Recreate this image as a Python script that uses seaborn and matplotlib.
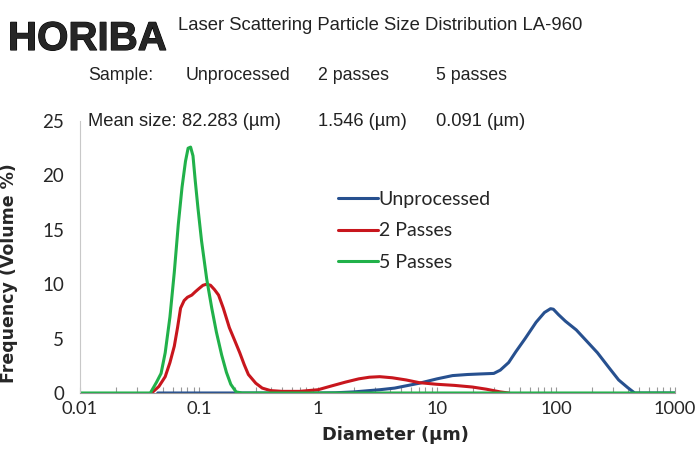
import numpy as np
import pandas as pd
import matplotlib
matplotlib.use("Agg")
import matplotlib.pyplot as plt
import matplotlib.ticker as mticker
import matplotlib.patheffects as pe
import seaborn as sns

# data
x_unproc = [0.045, 0.5, 1.0, 1.4, 2.0, 3.3, 4.4, 7.1, 10.0, 13.5, 18.0, 23.0, 30.0, 34.0, 40.0, 46.0, 55.0,
            68.0, 80.0, 90.0, 95.0, 105.0, 120.0, 148.0, 180.0, 223.0, 280.0, 336.0, 400.0, 458.0, 1000.0]
y_unproc = [0.0, 0.0, 0.0, 0.02, 0.1, 0.3, 0.45, 0.9, 1.3, 1.6, 1.7, 1.75, 1.8, 2.1, 2.8, 3.8, 5.0,
            6.5, 7.4, 7.75, 7.7, 7.2, 6.6, 5.8, 4.8, 3.7, 2.3, 1.2, 0.5, 0.0, 0.0]

x_2pass = [0.040, 0.046, 0.052, 0.057, 0.062, 0.066, 0.070, 0.075, 0.080, 0.087, 0.093, 0.100, 0.108, 0.116,
           0.125, 0.135, 0.146, 0.160, 0.180, 0.200, 0.220, 0.240, 0.260, 0.300, 0.340, 0.400, 0.500, 0.700,
           1.0, 1.3, 1.7, 2.2, 2.7, 3.3, 4.2, 5.5, 7.1, 10.0, 14.0, 19.8, 26.0, 34.0, 40.0]
y_2pass = [0.0, 0.6, 1.5, 2.8, 4.3, 6.0, 7.8, 8.5, 8.8, 9.0, 9.3, 9.6, 9.9, 10.0,
           9.9, 9.5, 9.0, 7.8, 6.0, 4.8, 3.7, 2.6, 1.7, 0.9, 0.45, 0.22, 0.15, 0.15,
           0.3, 0.65, 1.0, 1.3, 1.45, 1.5, 1.4, 1.2, 0.95, 0.8, 0.7, 0.55, 0.35, 0.1, 0.0]

x_5pass = [0.010, 0.039, 0.044, 0.048, 0.052, 0.057, 0.062, 0.067, 0.072, 0.077, 0.081, 0.085, 0.089,
           0.093, 0.098, 0.105, 0.116, 0.128, 0.140, 0.155, 0.170, 0.185, 0.205, 0.230, 1000.0]
y_5pass = [0.0, 0.0, 1.0, 1.8, 3.7, 7.0, 11.1, 15.5, 18.9, 21.3, 22.5, 22.6, 21.8,
           19.5, 17.0, 14.0, 10.5, 7.8, 5.6, 3.5, 1.9, 0.8, 0.1, 0.0, 0.0]

series = ["Unprocessed", "2 Passes", "5 Passes"]
colors = ["#27508f", "#c8161d", "#21b14a"]

df = pd.concat([
    pd.DataFrame({"Diameter": x_unproc, "Frequency": y_unproc, "Sample": series[0]}),
    pd.DataFrame({"Diameter": x_2pass, "Frequency": y_2pass, "Sample": series[1]}),
    pd.DataFrame({"Diameter": x_5pass, "Frequency": y_5pass, "Sample": series[2]}),
])

sns.set_style("white")
plt.rcParams["font.family"] = ["Lato", "DejaVu Sans"]

fig = plt.figure(figsize=(6.97, 4.51), dpi=100)
ax = fig.add_axes([80 / 697, 58 / 451, 595 / 697, 272 / 451])

sns.lineplot(data=df, x="Diameter", y="Frequency", hue="Sample", hue_order=series,
             palette=colors, linewidth=2.2, sort=False, estimator=None, ax=ax)

ax.set_xscale("log")
ax.set_xlim(0.01, 1000)
ax.set_ylim(0, 25)
ax.set_yticks([0, 5, 10, 15, 20, 25])
ax.xaxis.set_major_formatter(mticker.FuncFormatter(lambda v, p: f"{v:g}"))
ax.xaxis.set_minor_locator(mticker.LogLocator(base=10, subs=np.arange(2, 10)))
ax.xaxis.set_minor_formatter(mticker.NullFormatter())
ax.tick_params(axis="x", which="both", direction="in", color="#999999", length=4, width=0.8,
               labelsize=13.2, pad=6, bottom=True)
ax.tick_params(axis="y", left=False, labelsize=13.5, pad=8)

for s in ["top", "right"]:
    ax.spines[s].set_visible(False)
ax.spines["left"].set_color("#c8c8c8")
ax.spines["bottom"].set_color("#999999")

bold = ["DejaVu Sans"]
ax.set_xlabel("Diameter (µm)", fontsize=12.8, fontweight="bold", family=bold)
ax.set_ylabel("Frequency (Volume %)", fontsize=12.5, fontweight="bold", family=bold)
ax.xaxis.set_label_coords(0.53, -0.12)
ax.yaxis.set_label_coords(-0.105, 0.44)

ax.legend(frameon=False, loc="upper left", bbox_to_anchor=(0.42, 0.772), fontsize=14,
          handlelength=2.05, handletextpad=0.05, labelspacing=0.75, borderaxespad=0)

reg = ["Liberation Sans", "DejaVu Sans"]
W, H = 697, 451
fig.text(8 / W, 1 - 50 / H, "HORIBA", fontsize=29, fontweight="bold", family=reg, va="baseline",
         path_effects=[pe.withStroke(linewidth=0.8, foreground="black")])
fig.text(178 / W, 1 - 30 / H, "Laser Scattering Particle Size Distribution LA-960",
         fontsize=13.3, family=reg, va="baseline", color="#222222")

row1 = ["Sample:", "Unprocessed", "2 passes", "5 passes"]
row2 = ["Mean size:", "82.283 (µm)", "1.546 (µm)", "0.091 (µm)"]
cols1 = [88, 186, 318, 436]
cols2 = [88, 182, 318, 436]
for c1, c2, t1, t2 in zip(cols1, cols2, row1, row2):
    fig.text(c1 / W, 1 - 80 / H, t1, fontsize=12.8, family=reg, va="baseline", color="#222222")
    fig.text(c2 / W, 1 - 126 / H, t2, fontsize=13.2, family=reg, va="baseline", color="#222222")

plt.savefig("out.png", dpi=100)
